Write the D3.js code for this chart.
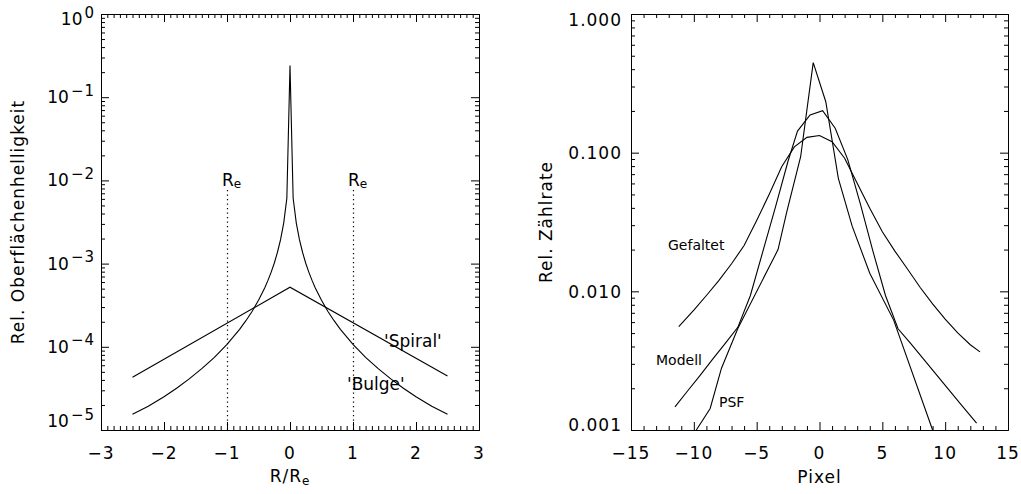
<!DOCTYPE html>
<html><head><meta charset="utf-8">
<script src="https://cdn.jsdelivr.net/npm/d3@7"></script>
<style>
body{margin:0;background:#fff;}
svg text{font-family:"DejaVu Sans",sans-serif;fill:#000;}
</style></head><body>
<svg id="chart" width="1021" height="494"></svg>
<script>
// ---------- Left panel data ----------
const leftXTicks = [-3, -2, -1, 0, 1, 2, 3];
const leftXTickLabels = ["\u22123", "\u22122", "\u22121", "0", "1", "2", "3"];
const leftYExponents = [0, -1, -2, -3, -4, -5];
const leftYExpLabels = ["0", "\u22121", "\u22122", "\u22123", "\u22124", "\u22125"];
const bulgeR = [-2.5, -2.25, -2, -1.8, -1.6, -1.4, -1.2, -1, -0.8, -0.7, -0.6, -0.5, -0.4, -0.35, -0.3, -0.25, -0.2, -0.15, -0.1, -0.05, 0,
                0.05, 0.1, 0.15, 0.2, 0.25, 0.3, 0.35, 0.4, 0.5, 0.6, 0.7, 0.8, 1, 1.2, 1.4, 1.6, 1.8, 2, 2.25, 2.5];
const bulgeI = [1.55e-5, 1.93e-5, 2.51e-5, 3.18e-5, 4.11e-5, 5.46e-5, 7.48e-5, 1.07e-4, 1.62e-4, 2.06e-4, 2.68e-4, 3.63e-4, 5.14e-4, 6.28e-4, 7.85e-4, 1.01e-3, 1.36e-3, 1.94e-3, 3.07e-3, 6.1e-3, 0.24,
                6.1e-3, 3.07e-3, 1.94e-3, 1.36e-3, 1.01e-3, 7.85e-4, 6.28e-4, 5.14e-4, 3.63e-4, 2.68e-4, 2.06e-4, 1.62e-4, 1.07e-4, 7.48e-5, 5.46e-5, 4.11e-5, 3.18e-5, 2.51e-5, 1.93e-5, 1.55e-5];
const spiralR = [-2.5, 0, 2.5];
const spiralI = [4.3e-5, 5.2e-4, 4.45e-5];
const reMarkers = [-1, 1];

// ---------- Right panel data ----------
const rightXTicks = [-15, -10, -5, 0, 5, 10, 15];
const rightXTickLabels = ["\u221215", "\u221210", "\u22125", "0", "5", "10", "15"];
const rightYTicks = [1, 0.1, 0.01, 0.001];
const rightYTickLabels = ["1.000", "0.100", "0.010", "0.001"];
const psfX = [-9.8, -8.7, -7.8, -6.5, -3.3, -2.6, -1.5, -0.5, 0.5, 1.5, 2.6, 4.0, 5.9, 9.0];
const psfY = [0.001, 0.00143, 0.00279, 0.0054, 0.020, 0.0375, 0.0935, 0.446, 0.233, 0.0653, 0.0295, 0.0135, 0.0062, 0.001];
const modellX = [-11.5, -10.5, -9.5, -8.5, -7.5, -6.5, -5.5, -4.5, -3.5, -2.5, -1.75, -0.75, 0.25, 1.25, 2.25, 3.25, 4.25, 5.25, 6.25, 7.25, 8.25, 9.25, 10.25, 11.25, 12.5];
const modellY = [0.00147, 0.00191, 0.00248, 0.00324, 0.00422, 0.0055, 0.00933, 0.0195, 0.0407, 0.0871, 0.143, 0.187, 0.201, 0.150, 0.0891, 0.0427, 0.0195, 0.00933, 0.00537, 0.00422, 0.00327, 0.00254, 0.00197, 0.00153, 0.00112];
const gefaltetX = [-11.2, -10, -9, -8, -7, -6, -5, -4, -3, -2, -1, 0, 1, 2, 3, 4, 5, 6, 7, 8, 9, 10, 11, 12, 12.77];
const gefaltetY = [0.00556, 0.00733, 0.00933, 0.0120, 0.0158, 0.0214, 0.0324, 0.0501, 0.0794, 0.110, 0.129, 0.133, 0.120, 0.0912, 0.0603, 0.0398, 0.0269, 0.0195, 0.0145, 0.0107, 0.00813, 0.00631, 0.00501, 0.00412, 0.00366];

const svg = d3.select("#chart");
const zip = (xs, ys) => xs.map((x, i) => [x, ys[i]]);

function frame(g, x, y, box, majX, minX, majY, minY) {
  const add = (axis, tr) => g.append("g").attr("transform", tr).call(axis).call(s => s.selectAll("text").remove()).attr("color", "#000");
  add(d3.axisBottom(x).tickValues(majX).tickSizeInner(-8).tickSizeOuter(0), `translate(0,${box.b})`);
  add(d3.axisBottom(x).tickValues(minX).tickSizeInner(-4).tickSizeOuter(0), `translate(0,${box.b})`);
  add(d3.axisTop(x).tickValues(majX).tickSizeInner(-8).tickSizeOuter(0), `translate(0,${box.t})`);
  add(d3.axisTop(x).tickValues(minX).tickSizeInner(-4).tickSizeOuter(0), `translate(0,${box.t})`);
  add(d3.axisLeft(y).tickValues(majY).tickSizeInner(-8).tickSizeOuter(0), `translate(${box.l},0)`);
  add(d3.axisLeft(y).tickValues(minY).tickSizeInner(-4).tickSizeOuter(0), `translate(${box.l},0)`);
  add(d3.axisRight(y).tickValues(majY).tickSizeInner(-8).tickSizeOuter(0), `translate(${box.r},0)`);
  add(d3.axisRight(y).tickValues(minY).tickSizeInner(-4).tickSizeOuter(0), `translate(${box.r},0)`);
}
function logMinor(lo, hi) {
  const out = [];
  for (let e = lo; e < hi; e++) for (let m = 2; m <= 9; m++) out.push(m * Math.pow(10, e));
  return out;
}

// ---------- Left panel ----------
const LB = {l: 101, r: 479, t: 14, b: 430};
const xL = d3.scaleLinear().domain([-3, 3]).range([LB.l, LB.r]);
const yL = d3.scaleLog().domain([1e-5, 1]).range([LB.b, LB.t]);
const gL = svg.append("g");
const leftMinorX = d3.range(-30, 31).filter(v => v % 10 !== 0).map(v => v / 10);
frame(gL, xL, yL, LB, leftXTicks, leftMinorX, leftYExponents.map(e => Math.pow(10, e)), logMinor(-5, 0));

const line = (x, y) => d3.line().x(d => x(d[0])).y(d => y(d[1]));
gL.append("path").attr("d", line(xL, yL)(zip(bulgeR, bulgeI))).attr("fill", "none").attr("stroke", "#000").attr("stroke-width", 1.1);
gL.append("path").attr("d", line(xL, yL)(zip(spiralR, spiralI))).attr("fill", "none").attr("stroke", "#000").attr("stroke-width", 1.1);

reMarkers.forEach(r => {
  gL.append("line").attr("x1", xL(r) + 0.5).attr("x2", xL(r) + 0.5).attr("y1", 190).attr("y2", LB.b)
    .attr("stroke", "#000").attr("stroke-width", 1.2).attr("stroke-dasharray", "1.3,3.2");
  const t = gL.append("text").attr("x", xL(r) - 5).attr("y", 185.5).attr("font-size", 17);
  t.append("tspan").text("R");
  t.append("tspan").attr("font-size", 12).attr("dy", 2).text("e");
});

// tick labels
leftXTicks.forEach((v, i) => {
  gL.append("text").attr("x", xL(v)).attr("y", 458.5).attr("text-anchor", "middle")
    .attr("font-size", 17).attr("letter-spacing", 1).text(leftXTickLabels[i]);
});
leftYExponents.forEach((e, i) => {
  const yc = Math.min(Math.max(yL(Math.pow(10, e)), 19), 421);
  const t = gL.append("text").attr("x", 95).attr("y", yc + 6).attr("text-anchor", "end").attr("font-size", 17);
  t.append("tspan").text("10");
  t.append("tspan").attr("dx", 2).attr("dy", -7.5).attr("font-size", 15).attr("letter-spacing", 1).text(leftYExpLabels[i]);
});
{
  const t = gL.append("text").attr("x", xL(0)).attr("y", 481.5).attr("text-anchor", "middle").attr("font-size", 17).attr("letter-spacing", 1);
  t.append("tspan").text("R/R");
  t.append("tspan").attr("font-size", 12).attr("dy", 3).text("e");
}
gL.append("text").attr("transform", `translate(23.5,${(LB.t + LB.b) / 2}) rotate(-90)`).attr("text-anchor", "middle")
  .attr("font-size", 17).attr("letter-spacing", 1).text("Rel. Oberflächenhelligkeit");
gL.append("text").attr("x", 384).attr("y", 347).attr("font-size", 17).text("'Spiral'");
gL.append("text").attr("x", 347).attr("y", 390).attr("font-size", 17).text("'Bulge'");

// ---------- Right panel ----------
const RB = {l: 631, r: 1008, t: 14, b: 430};
const xR = d3.scaleLinear().domain([-15, 15]).range([RB.l, RB.r]);
const yR = d3.scaleLog().domain([0.001, 1]).range([RB.b, RB.t]);
const gR = svg.append("g");
const rightMinorX = d3.range(-15, 16).filter(v => v % 5 !== 0);
frame(gR, xR, yR, RB, rightXTicks, rightMinorX, rightYTicks, logMinor(-3, 0));

[[psfX, psfY], [modellX, modellY], [gefaltetX, gefaltetY]].forEach(([xs, ys]) => {
  gR.append("path").attr("d", line(xR, yR)(zip(xs, ys))).attr("fill", "none").attr("stroke", "#000").attr("stroke-width", 1.1);
});

rightXTicks.forEach((v, i) => {
  gR.append("text").attr("x", xR(v)).attr("y", 458.5).attr("text-anchor", "middle")
    .attr("font-size", 17).attr("letter-spacing", 1).text(rightXTickLabels[i]);
});
rightYTicks.forEach((v, i) => {
  const yc = Math.min(Math.max(yR(v), 20), 424.7);
  gR.append("text").attr("x", 622).attr("y", yc + 6.2).attr("text-anchor", "end")
    .attr("font-size", 17).attr("letter-spacing", 1).text(rightYTickLabels[i]);
});
gR.append("text").attr("x", xR(0)).attr("y", 482.5).attr("text-anchor", "middle").attr("font-size", 17).attr("letter-spacing", 1).text("Pixel");
gR.append("text").attr("transform", `translate(552,${(RB.t + RB.b) / 2}) rotate(-90)`).attr("text-anchor", "middle")
  .attr("font-size", 17).attr("letter-spacing", 1).text("Rel. Zählrate");
gR.append("text").attr("x", 668).attr("y", 250).attr("font-size", 14).text("Gefaltet");
gR.append("text").attr("x", 656).attr("y", 365).attr("font-size", 14).text("Modell");
gR.append("text").attr("x", 719).attr("y", 406.5).attr("font-size", 14).text("PSF");
</script>
</body></html>
